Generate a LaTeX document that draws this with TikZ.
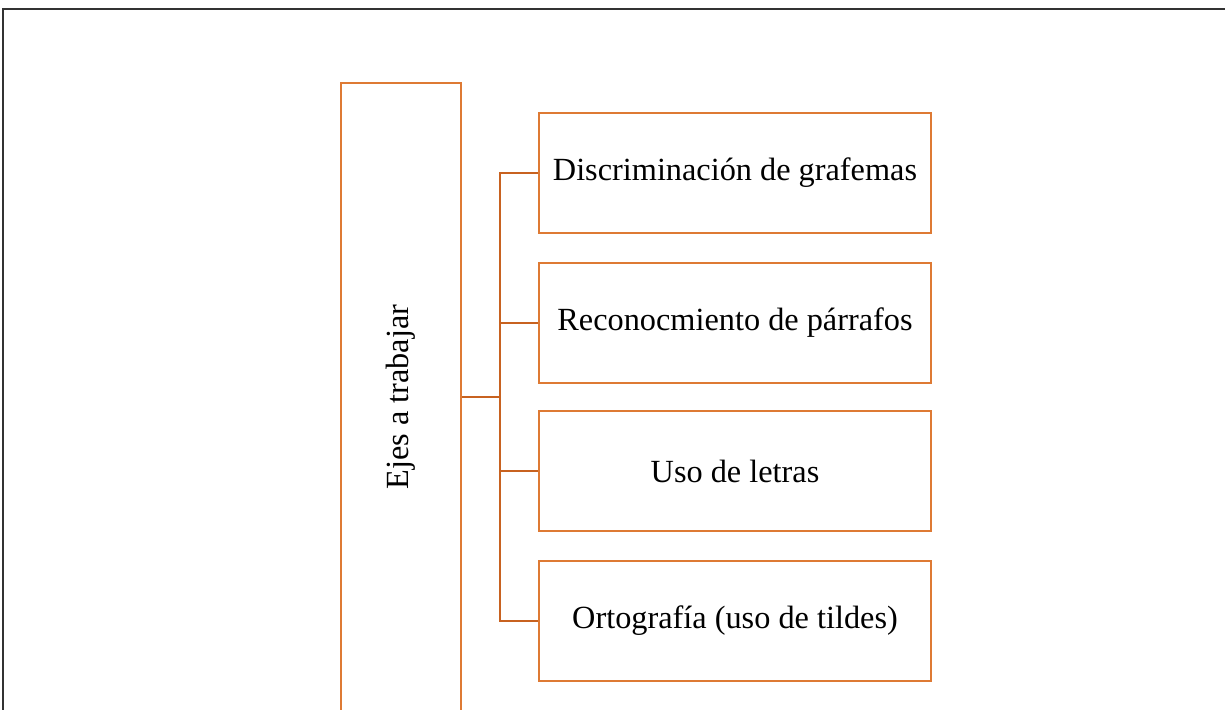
\documentclass[tikz,border=0pt]{standalone}
\usepackage{fontspec}
\setmainfont{Liberation Serif}
\usepackage{tikz}
\definecolor{naranja}{RGB}{222,122,52}
\definecolor{naranjaosc}{RGB}{200,98,32}

\begin{document}
\begin{tikzpicture}[x=1pt,y=-1pt,
    caja/.style={draw=naranja,line width=2.6pt,minimum width=392pt,minimum height=120pt,inner sep=0pt,font=\fontsize{32.3}{38}\selectfont},
    rama/.style={draw=naranjaosc,line width=2.6pt}]
    \useasboundingbox (0,0) rectangle (1225,709);
    \clip (0,0) rectangle (1225,709);
    % marco
    \draw[line width=2pt,black!80] (3,720) -- (3,9.5) -- (1230,9.5);

    \node[caja,minimum width=120pt,minimum height=628pt] (eje) at (401,397) {};
    \node[rotate=90,font=\fontsize{32.3}{38}\selectfont] (ejetxt) at (eje.center) {Ejes a trabajar};

    \node[caja] (graf) at (735,173) {Discriminación de grafemas};
    \node[caja] (parr) at (735,323) {Reconocmiento de párrafos};
    \node[caja] (letr) at (735,471) {Uso de letras};
    \node[caja] (orto) at (735,621) {Ortografía (uso de tildes)};

    \coordinate (tronco) at (500,397);
    \draw[rama] (eje.east) -- (tronco);
    \draw[rama] (tronco) |- (graf.west);
    \draw[rama] (tronco) |- (parr.west);
    \draw[rama] (tronco) |- (letr.west);
    \draw[rama] (tronco) |- (orto.west);
\end{tikzpicture}
\end{document}
